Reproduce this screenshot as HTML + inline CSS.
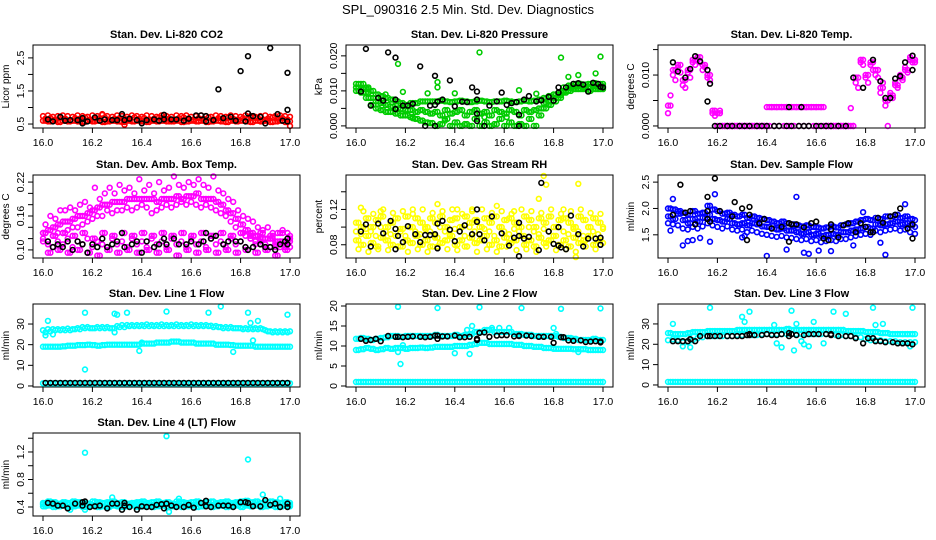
<!DOCTYPE html>
<html><head><meta charset="utf-8"><style>
html,body{margin:0;padding:0;background:#fff;}
svg{display:block;font-family:"Liberation Sans",Arial,sans-serif;}
</style></head><body>
<svg id="chart" width="936" height="540" viewBox="0 0 936 540" xmlns="http://www.w3.org/2000/svg">
<rect width="936" height="540" fill="#fff"/>
<text x="468" y="14" text-anchor="middle" font-size="13">SPL_090316  2.5 Min. Std. Dev. Diagnostics</text>
<g id="panels"></g>
</svg>
<script>
// shared time axis (categories)
const X = [16.00,16.02,16.04,16.06,16.08,16.10,16.12,16.14,16.16,16.18,16.20,16.22,16.24,16.26,16.28,16.30,16.32,16.34,16.36,16.38,16.40,16.42,16.44,16.46,16.48,16.50,16.52,16.54,16.56,16.58,16.60,16.62,16.64,16.66,16.68,16.70,16.72,16.74,16.76,16.78,16.80,16.82,16.84,16.86,16.88,16.90,16.92,16.94,16.96,16.98,17.00];
const X2 = [16.01,16.03,16.05,16.07,16.09,16.11,16.13,16.15,16.17,16.19,16.21,16.23,16.25,16.27,16.29,16.31,16.33,16.35,16.37,16.39,16.41,16.43,16.45,16.47,16.49,16.51,16.53,16.55,16.57,16.59,16.61,16.63,16.65,16.67,16.69,16.71,16.73,16.75,16.77,16.79,16.81,16.83,16.85,16.87,16.89,16.91,16.93,16.95,16.97,16.99];
const xTicks = [16.0,16.2,16.4,16.6,16.8,17.0];
const xTickLabels = ["16.0","16.2","16.4","16.6","16.8","17.0"];

// Panel 1: CO2
const co2Red1 = [0.66,0.68,0.64,0.70,0.66,0.62,0.68,0.66,0.70,0.64,0.66,0.68,0.70,0.64,0.66,0.68,0.66,0.62,0.70,0.66,0.68,0.64,0.66,0.70,0.68,0.66,0.64,0.68,0.70,0.66,0.64,0.68,0.66,0.70,0.64,0.68,0.66,0.70,0.66,0.64,0.68,0.66,0.70,0.68,0.64,0.66,0.70,0.66,0.68,0.64,0.62];
const co2Red2 = [0.60,0.58,0.60,0.56,0.60,0.58,0.60,0.58,0.56,0.60,0.58,0.60,0.56,0.58,0.60,0.58,0.56,0.60,0.58,0.60,0.58,0.56,0.60,0.58,0.60,0.58,0.58,0.60,0.56,0.58,0.60,0.58,0.60,0.56,0.58,0.60,0.58,0.56,0.60,0.58,0.60,0.58,0.56,0.60,0.58,0.60,0.56,0.58,0.60,0.56,0.58];
const co2Red3 = [0.74,0.76,0.72,0.74,0.76,0.74,0.72,0.76,0.74,0.72,0.76,0.74,0.78,0.74,0.72,0.76,0.74,0.72,0.76,0.74,0.72,0.76,0.74,0.72,0.76,0.74,0.72,0.76,0.74,0.76,0.72,0.74,0.76,0.74,0.72,0.76,0.74,0.72,0.76,0.74,0.72,0.76,0.74,0.72,0.74,0.76,0.72,0.74,0.76,0.74,0.72];
const co2RedOutX = [16.24,16.33,17.00];
const co2RedOutY = [0.80,0.48,0.44];
const co2BlkX = [16.02,16.04,16.07,16.09,16.11,16.14,16.16,16.16,16.18,16.21,16.23,16.25,16.28,16.30,16.32,16.33,16.35,16.38,16.40,16.42,16.45,16.47,16.49,16.49,16.52,16.54,16.57,16.59,16.62,16.64,16.66,16.66,16.69,16.71,16.73,16.76,16.78,16.80,16.82,16.83,16.83,16.85,16.88,16.90,16.92,16.95,16.97,16.99,16.99,16.99];
const co2BlkY = [0.64,0.58,0.72,0.60,0.62,0.62,0.68,0.52,0.58,0.70,0.60,0.64,0.62,0.62,0.80,0.62,0.66,0.62,0.52,0.62,0.64,0.60,0.78,0.64,0.64,0.64,0.60,0.66,0.76,0.76,0.74,0.58,0.62,1.55,0.68,0.72,0.60,2.10,0.58,2.55,0.82,0.74,0.72,0.52,2.80,0.80,0.60,0.93,2.05,0.58];

// Panel 2: Pressure
const presG1 = [0.012,0.012,0.011,0.010,0.009,0.0085,0.008,0.0075,0.007,0.0065,0.006,0.0065,0.0065,0.007,0.007,0.007,0.007,0.0072,0.007,0.0068,0.007,0.0072,0.007,0.0068,0.007,0.0072,0.007,0.0068,0.007,0.007,0.0072,0.007,0.0068,0.007,0.0072,0.007,0.0072,0.0075,0.008,0.0085,0.009,0.0095,0.011,0.0115,0.012,0.012,0.0118,0.012,0.0122,0.012,0.012];
const presG2 = [0.010,0.0095,0.008,0.006,0.005,0.0045,0.004,0.004,0.0035,0.003,0.003,0.0025,0.002,0.0015,0.001,0.0008,0.0,0.0005,0.002,0.0,0.001,0.0,0.0005,0.0,0.002,0.0,0.001,0.0,0.0005,0.002,0.0,0.001,0.0,0.0005,0.0,0.002,0.0,0.003,0.005,0.006,0.007,0.008,0.0095,0.010,0.0105,0.0105,0.0105,0.010,0.0105,0.0105,0.0105];
const presG3 = [0.011,0.0105,0.0095,0.008,0.007,0.0065,0.006,0.0055,0.005,0.0048,0.0045,0.0045,0.004,0.0045,0.004,0.0035,0.004,0.003,0.0045,0.0035,0.004,0.0045,0.003,0.004,0.0045,0.0035,0.004,0.003,0.0045,0.004,0.0035,0.0045,0.004,0.003,0.0045,0.004,0.0045,0.005,0.0065,0.007,0.008,0.0088,0.010,0.0108,0.0112,0.0113,0.011,0.0112,0.0113,0.0112,0.0113];
const presGOutX = [16.05,16.17,16.19,16.29,16.33,16.33,16.40,16.50,16.83,16.86,16.90,16.97,16.99,16.12,16.23,16.36,16.52,16.61,16.66,16.73];
const presGOutY = [0.0105,0.0177,0.0097,0.0093,0.0125,0.011,0.0093,0.021,0.0195,0.014,0.0145,0.015,0.0198,0.009,0.0022,0.0015,0.0025,0.0025,0.0102,0.0092];
const presBlkX = [16.04,16.13,16.16,16.26,16.32,16.38,16.47,16.49,16.02,16.06,16.09,16.11,16.16,16.16,16.19,16.21,16.23,16.28,16.30,16.32,16.32,16.33,16.35,16.40,16.43,16.45,16.49,16.49,16.49,16.52,16.54,16.57,16.59,16.61,16.63,16.65,16.66,16.66,16.68,16.70,16.73,16.75,16.78,16.80,16.82,16.82,16.85,16.88,16.90,16.92,16.94,16.96,16.98,16.99,17.00];
const presBlkY = [0.022,0.021,0.0195,0.017,0.0143,0.013,0.011,0.0098,0.0098,0.0058,0.008,0.0072,0.0075,0.0048,0.0058,0.0058,0.0063,0.0,0.0058,0.006,0.0,0.0069,0.0075,0.0056,0.0069,0.0068,0.0075,0.0035,0.0014,0.0,0.0058,0.007,0.0095,0.006,0.0065,0.0068,0.0032,0.0,0.0075,0.0085,0.007,0.0073,0.0083,0.0072,0.0095,0.011,0.011,0.012,0.0122,0.0118,0.0098,0.0123,0.012,0.0112,0.011];

// Panel 3: Li-820 temp
const tempM1 = [0.004,0.011,0.012,0.009,0.011,0.013,0.0135,0.012,0.010,0.003,0.0025,0,0,0,0,0,0,0,0,0,0.0037,0.0037,0.0037,0.0037,0.0037,0.0037,0.0037,0.0037,0.0037,0.0037,0.0037,0.0037,0,0,0,0,0,0,0.0095,0.013,0.010,0.0125,0.011,0.0075,0.005,0.006,0.008,0.0095,0.011,0.013,0.013];
const tempM2 = [0.006,0.009,0.0105,0.0075,0.0095,0.012,0.0125,0.0115,0.009,0.002,0.003,0,0,0,0,0,0,0,0,0,0,0,0,0,0,0,0,0,0,0,0,0,0,0,0,0,0,0,0.0075,0.012,0.0085,0.011,0.0095,0.0085,0,0.0055,0.0075,0.009,0.0105,0.0125,0.012];
const tempM3 = [0.0025,0.010,0.0115,0.008,0.0105,0.0125,0.013,0.011,0.0095,0.0025,0,0,0,0,0,0,0,0,0,0,0,0.0037,0.0037,0.0037,0.0037,0.0037,0.0037,0.0037,0.0037,0.0037,0.0037,0.0037,0,0,0,0,0,0.0035,0.0085,0.0125,0.0095,0.012,0.010,0.0065,0.004,0.0065,0.0085,0.010,0.0115,0.0135,0.0125];
const tempBlkX = [16.02,16.04,16.07,16.09,16.11,16.13,16.16,16.17,16.16,16.19,16.21,16.24,16.26,16.29,16.31,16.33,16.36,16.38,16.40,16.43,16.45,16.48,16.50,16.53,16.55,16.57,16.60,16.62,16.64,16.66,16.69,16.72,16.49,16.54,16.75,16.79,16.83,16.86,16.88,16.90,16.92,16.94,16.96,16.99,16.99];
const tempBlkY = [0.0125,0.0107,0.0095,0.0112,0.0137,0.0127,0.011,0.0083,0.0048,0,0,0,0,0,0,0,0,0,0,0,0,0,0,0,0,0,0,0,0,0,0,0,0.0037,0.0037,0.0095,0.0075,0.013,0.0088,0.0055,0.0055,0.0093,0.0098,0.0125,0.0138,0.011];

// Panel 4: Amb box temp
const ambUp = [0.13,0.135,0.14,0.145,0.15,0.15,0.155,0.16,0.16,0.165,0.17,0.175,0.18,0.18,0.185,0.185,0.185,0.19,0.19,0.19,0.19,0.19,0.19,0.185,0.19,0.19,0.19,0.195,0.19,0.195,0.195,0.20,0.19,0.19,0.19,0.185,0.18,0.17,0.165,0.155,0.145,0.135,0.13,0.125,0.12,0.12,0.12,0.115,0.115,0.115,0.115];
const ambUpHi = [0.145,0.16,0.155,0.17,0.17,0.175,0.17,0.18,0.185,0.175,0.21,0.19,0.20,0.21,0.20,0.215,0.205,0.21,0.20,0.225,0.205,0.215,0.20,0.22,0.205,0.21,0.23,0.215,0.21,0.22,0.215,0.225,0.215,0.21,0.23,0.205,0.20,0.19,0.185,0.17,0.16,0.155,0.15,0.14,0.135,0.14,0.13,0.13,0.135,0.13,0.125];
const ambUpLo = [0.12,0.115,0.125,0.13,0.13,0.135,0.14,0.14,0.145,0.15,0.155,0.16,0.16,0.17,0.165,0.17,0.17,0.175,0.17,0.175,0.18,0.175,0.165,0.17,0.175,0.18,0.175,0.18,0.185,0.18,0.185,0.18,0.175,0.18,0.175,0.17,0.165,0.16,0.15,0.14,0.13,0.125,0.12,0.115,0.11,0.11,0.105,0.105,0.105,0.11,0.105];
const ambLow = [0.115,0.11,0.105,0.115,0.11,0.12,0.105,0.115,0.11,0.12,0.105,0.115,0.11,0.105,0.12,0.11,0.115,0.105,0.12,0.11,0.115,0.105,0.12,0.11,0.115,0.105,0.12,0.11,0.115,0.105,0.12,0.11,0.115,0.105,0.12,0.11,0.115,0.105,0.12,0.11,0.115,0.105,0.12,0.11,0.115,0.105,0.12,0.11,0.115,0.105,0.12];
const ambLow2 = [0.13,0.095,0.125,0.10,0.13,0.095,0.125,0.10,0.13,0.095,0.12,0.09,0.13,0.10,0.125,0.095,0.13,0.10,0.125,0.095,0.13,0.10,0.125,0.095,0.13,0.10,0.125,0.09,0.13,0.10,0.125,0.095,0.13,0.10,0.125,0.095,0.13,0.10,0.125,0.095,0.13,0.10,0.125,0.095,0.13,0.10,0.125,0.09,0.13,0.10,0.125];
const ambBlkX = [16.02,16.04,16.06,16.08,16.10,16.12,16.14,16.16,16.18,16.20,16.22,16.24,16.26,16.28,16.30,16.32,16.33,16.36,16.38,16.40,16.42,16.45,16.47,16.49,16.50,16.53,16.55,16.58,16.60,16.63,16.65,16.66,16.68,16.70,16.73,16.75,16.78,16.80,16.82,16.83,16.85,16.88,16.90,16.92,16.94,16.96,16.98,16.99,16.99];
const ambBlkY = [0.115,0.105,0.11,0.105,0.115,0.10,0.115,0.11,0.095,0.11,0.105,0.12,0.105,0.11,0.115,0.13,0.105,0.11,0.115,0.095,0.115,0.105,0.11,0.12,0.11,0.12,0.11,0.11,0.115,0.11,0.115,0.13,0.12,0.125,0.11,0.115,0.115,0.115,0.105,0.10,0.105,0.11,0.105,0.105,0.10,0.11,0.115,0.12,0.11];

// Panel 5: Gas stream RH
const rhY1 = [0.105,0.10,0.11,0.10,0.108,0.112,0.10,0.105,0.11,0.098,0.112,0.10,0.11,0.105,0.10,0.11,0.105,0.112,0.10,0.108,0.11,0.10,0.112,0.105,0.108,0.10,0.11,0.105,0.112,0.10,0.108,0.11,0.105,0.10,0.112,0.108,0.10,0.11,0.105,0.112,0.10,0.108,0.11,0.105,0.10,0.112,0.108,0.10,0.11,0.105,0.10];
const rhY2 = [0.085,0.08,0.09,0.082,0.078,0.088,0.085,0.08,0.09,0.078,0.085,0.082,0.09,0.08,0.085,0.078,0.088,0.082,0.085,0.09,0.08,0.085,0.078,0.088,0.082,0.085,0.09,0.08,0.085,0.078,0.088,0.082,0.085,0.09,0.08,0.085,0.078,0.088,0.082,0.085,0.09,0.08,0.085,0.078,0.088,0.082,0.085,0.09,0.08,0.085,0.082];
const rhY3 = [0.095,0.092,0.098,0.095,0.09,0.1,0.095,0.092,0.098,0.095,0.09,0.1,0.095,0.092,0.098,0.095,0.09,0.1,0.095,0.092,0.098,0.095,0.09,0.1,0.095,0.092,0.098,0.095,0.09,0.1,0.095,0.092,0.098,0.095,0.09,0.1,0.095,0.092,0.098,0.095,0.09,0.1,0.095,0.092,0.098,0.095,0.09,0.1,0.095,0.092,0.098];
const rhY4 = [0.075,0.118,0.072,0.115,0.075,0.12,0.074,0.116,0.078,0.118,0.072,0.115,0.075,0.12,0.072,0.116,0.078,0.118,0.075,0.12,0.074,0.115,0.078,0.118,0.072,0.12,0.075,0.116,0.072,0.118,0.078,0.115,0.074,0.12,0.075,0.118,0.072,0.116,0.078,0.12,0.074,0.115,0.075,0.118,0.072,0.12,0.078,0.116,0.075,0.115,0.078];
const rhOutX = [16.02,16.10,16.33,16.41,16.47,16.57,16.74,16.76,16.77,16.84,16.90,16.89,16.23,16.64];
const rhOutY = [0.122,0.118,0.126,0.12,0.12,0.124,0.132,0.158,0.148,0.12,0.149,0.066,0.12,0.118];
const rhBlkX = [16.02,16.04,16.06,16.09,16.11,16.14,16.16,16.16,16.17,16.19,16.21,16.24,16.26,16.28,16.30,16.32,16.33,16.33,16.35,16.38,16.40,16.42,16.44,16.47,16.49,16.49,16.50,16.52,16.55,16.59,16.62,16.64,16.66,16.66,16.66,16.68,16.70,16.74,16.75,16.78,16.80,16.82,16.82,16.83,16.85,16.87,16.90,16.92,16.94,16.97,16.99,16.99];
const rhBlkY = [0.095,0.103,0.078,0.104,0.093,0.107,0.098,0.075,0.09,0.083,0.101,0.092,0.083,0.091,0.091,0.092,0.076,0.104,0.107,0.097,0.084,0.095,0.102,0.092,0.12,0.106,0.092,0.085,0.112,0.093,0.079,0.088,0.067,0.09,0.105,0.087,0.089,0.074,0.15,0.095,0.081,0.1,0.079,0.077,0.075,0.113,0.092,0.078,0.087,0.087,0.088,0.08];

// Panel 6: Sample flow
const flowB1 = [1.85,1.80,1.95,1.78,1.72,1.80,1.75,1.82,1.88,1.80,1.78,1.75,1.80,1.72,1.70,1.72,1.68,1.72,1.70,1.66,1.65,1.62,1.60,1.62,1.58,1.58,1.55,1.52,1.55,1.50,1.52,1.48,1.50,1.52,1.50,1.55,1.55,1.58,1.60,1.62,1.65,1.62,1.70,1.68,1.70,1.72,1.75,1.70,1.72,1.68,1.65];
const flowB2 = [2.00,1.98,1.90,1.92,1.88,1.95,1.90,1.92,2.05,1.98,1.95,1.90,1.92,1.88,1.85,1.88,1.82,1.85,1.82,1.80,1.78,1.75,1.72,1.75,1.72,1.70,1.68,1.66,1.68,1.65,1.64,1.62,1.64,1.66,1.64,1.68,1.70,1.72,1.75,1.78,1.80,1.78,1.82,1.80,1.85,1.85,1.88,1.82,1.85,1.80,1.78];
const flowB3 = [1.72,1.70,1.68,1.62,1.60,1.65,1.62,1.66,1.72,1.68,1.65,1.62,1.66,1.60,1.58,1.60,1.55,1.58,1.55,1.52,1.50,1.48,1.46,1.48,1.45,1.44,1.42,1.40,1.42,1.38,1.40,1.36,1.38,1.40,1.38,1.42,1.42,1.45,1.48,1.50,1.52,1.50,1.58,1.55,1.58,1.60,1.62,1.58,1.60,1.55,1.52];
const flowOutX = [16.01,16.02,16.06,16.08,16.10,16.13,16.17,16.19,16.30,16.31,16.40,16.48,16.52,16.55,16.57,16.61,16.66,16.75,16.79,16.86,16.88,16.96];
const flowOutY = [1.58,2.18,1.30,1.38,1.40,1.44,1.37,2.27,1.45,1.48,1.10,1.22,2.22,1.16,1.14,1.20,1.19,1.30,1.93,1.35,1.12,2.08];
const flowBlkX = [16.02,16.05,16.07,16.09,16.11,16.16,16.16,16.16,16.17,16.19,16.21,16.26,16.27,16.30,16.32,16.33,16.33,16.37,16.39,16.42,16.46,16.49,16.49,16.50,16.52,16.55,16.58,16.60,16.63,16.65,16.66,16.66,16.69,16.71,16.73,16.76,16.78,16.80,16.82,16.83,16.85,16.87,16.90,16.92,16.94,16.97,16.99,16.99];
const flowBlkY = [1.88,2.45,1.92,1.95,1.70,1.95,2.22,1.80,1.75,2.57,1.95,1.85,2.12,2.00,1.40,1.88,2.03,1.72,1.80,1.62,1.65,1.72,1.37,1.70,1.70,1.64,1.72,1.75,1.43,1.40,1.60,1.70,1.45,1.68,1.72,1.55,1.72,1.65,1.55,1.55,1.82,1.73,1.85,1.88,2.00,1.62,1.70,1.43];

// Panel 7: Line 1 flow
const l1Up = [27,27.5,27.5,27.5,27.5,27.8,27.5,28,28.5,28.5,28,28.5,28.5,28.5,28,29,29.5,29.5,29.5,29.5,29.5,29.8,29.5,29.5,29.8,29.5,29.5,29.8,29.5,29.5,29.8,29.5,29.5,29.5,29.2,29,28.5,28.5,28.5,28,28,28,28,28,28,27,26.5,26.5,26.5,26.5,26.5];
const l1Up2 = [26,26.5,27,27,27,27,27.5,27.5,28,28,28,28,28,28,28,28.5,28.5,29,29,29,29,29,29,29,29,29,29,29,29,29,29,29,29,29,28.5,28.5,28,28,28,28,27.5,27.5,27.5,27.5,27.5,26.5,26,26,26,26,26];
const l1Mid = [19,19,19,19,19.2,19.5,19.5,19.8,19.8,20,19.8,19.5,19.8,20,20,20,20,20,20,20,20.5,20.5,20.5,21,21,21,21.5,21.5,21,21,21,20.5,20.5,20.5,20.5,20,20,20,19.8,19.5,19.5,19.5,19.5,19,19,19,19,19,19,19,19];
const l1Low = [1.3,1.3,1.3,1.3,1.3,1.3,1.3,1.3,1.3,1.3,1.3,1.3,1.3,1.3,1.3,1.3,1.3,1.3,1.3,1.3,1.3,1.3,1.3,1.3,1.3,1.3,1.3,1.3,1.3,1.3,1.3,1.3,1.3,1.3,1.3,1.3,1.3,1.3,1.3,1.3,1.3,1.3,1.3,1.3,1.3,1.3,1.3,1.3,1.3,1.3,1.3];
const l1OutX = [16.02,16.01,16.17,16.17,16.29,16.30,16.29,16.34,16.39,16.40,16.50,16.67,16.72,16.77,16.83,16.84,16.87,16.99,16.04,16.85];
const l1OutY = [31.5,24.5,35.5,8,35,34.5,26,35.5,17,21,36,35.5,38.5,16.5,35.5,30.5,31.5,34.5,25,22];
const l1BlkY = [1.5,1.5,1.5,1.5,1.5,1.5,1.5,1.5,1.5,1.5,1.5,1.5,1.5,1.5,1.5,1.5,1.5,1.5,1.5,1.5,1.5,1.5,1.5,1.5,1.5,1.5,1.5,1.5,1.5,1.5,1.5,1.5,1.5,1.5,1.5,1.5,1.5,1.5,1.5,1.5,1.5,1.5,1.5,1.5,1.5,1.5,1.5,1.5,1.5,1.5];

// Panel 8: Line 2 flow
const l2Up = [11.8,12,11.8,11.5,11.8,12,12.2,12.5,12.5,12.3,12.5,12.5,12.5,12.5,12.5,12.5,12.8,12.5,12.5,12.5,12.8,12.5,12.8,13,13.5,13.5,14,14,13.5,13.5,13.5,13.5,13,13,12.8,12.8,12.5,12.5,12.5,12.5,12.5,12.3,12,12,11.8,11.5,11.5,11.5,11.8,11.5,11.5];
const l2Mid = [9,9.2,9.5,9.3,9,9.2,9.5,9.3,9.5,9.5,9.3,9.5,9.5,9.6,9.5,9.6,9.8,9.8,9.8,9.8,10,10,10,10.3,10.5,10.8,10.8,10.5,10.5,10.5,10.5,10.5,10.3,10.3,10,10,9.8,9.8,9.5,9.5,9.3,9.3,9.3,9.3,9.2,9.2,9.2,9,9,9,9];
const l2Low = [1,1,1,1,1,1,1,1,1,1,1,1,1,1,1,1,1,1,1,1,1,1,1,1,1,1,1,1,1,1,1,1,1,1,1,1,1,1,1,1,1,1,1,1,1,1,1,1,1,1,1];
const l2OutX = [16.17,16.18,16.19,16.33,16.40,16.45,16.46,16.47,16.50,16.55,16.58,16.62,16.67,16.80,16.81,16.83,16.90,16.99,16.17];
const l2OutY = [19.8,5.5,10.2,19.5,8.2,14,8,15,19.7,14.5,14.5,14.5,19.5,14.5,13,19.3,8.5,19.4,8.5];
const l2BlkX = [16.02,16.04,16.06,16.08,16.10,16.13,16.16,16.17,16.19,16.21,16.23,16.26,16.28,16.30,16.32,16.33,16.33,16.35,16.37,16.40,16.42,16.44,16.46,16.49,16.49,16.50,16.52,16.54,16.57,16.59,16.61,16.64,16.66,16.66,16.69,16.71,16.74,16.76,16.79,16.80,16.83,16.84,16.86,16.88,16.91,16.93,16.95,16.97,16.99,16.99];
const l2BlkY = [11.8,11.3,11.5,11.8,11.2,12.5,12.3,12.3,12.2,12.3,12.4,12.3,12.2,12.3,12.6,11.8,12.6,12.4,12.4,12.6,12.2,12.2,12.3,11.5,11.8,13.3,13.4,12.3,12.6,12.7,12.7,12.4,12.5,12.6,12.6,12.5,12.3,12.3,12.3,10.8,12.2,12.2,11.4,11.3,11.4,11,11.1,11.2,11.1,10.9];

// Panel 9: Line 3 flow
const l3Up = [25.5,25,25,25,25.5,26,26,26,26.5,26.5,26.5,26.5,26.5,26.5,27,27,27,27,27,27,27,27,27,27,27.5,27,27,27,27,27,27,27,27,27,27,27,26.5,26.5,26.5,26.5,26,26,26,25.5,25.5,25,25,25,25,25,25];
const l3Mid = [22,22.5,22,21,21,22,23,23.5,24,24,24,24,24,24,24.5,24.5,24.5,24.5,24.5,25,25,25,25,25,25,25,25,25,25,25,25,25,25,25,24.5,24.5,24,24,23.5,23.5,22.5,22,22,22,21.5,21.5,21.5,21,21,21,21];
const l3Low = [1.5,1.5,1.5,1.5,1.5,1.5,1.5,1.5,1.5,1.5,1.5,1.5,1.5,1.5,1.5,1.5,1.5,1.5,1.5,1.5,1.5,1.5,1.5,1.5,1.5,1.5,1.5,1.5,1.5,1.5,1.5,1.5,1.5,1.5,1.5,1.5,1.5,1.5,1.5,1.5,1.5,1.5,1.5,1.5,1.5,1.5,1.5,1.5,1.5,1.5,1.5];
const l3OutX = [16.02,16.06,16.09,16.17,16.30,16.31,16.33,16.43,16.44,16.46,16.50,16.51,16.52,16.54,16.55,16.57,16.59,16.63,16.67,16.72,16.83,16.84,16.87,16.99,16.98];
const l3OutY = [30,19,18.5,38,33.5,31,36,29.5,20.5,18.5,36.5,17,30,21.5,20,19,31,20.5,36,35,38,29.5,30,38,19];
const l3BlkX = [16.02,16.04,16.06,16.08,16.09,16.11,16.13,16.16,16.17,16.19,16.21,16.24,16.26,16.28,16.30,16.32,16.33,16.33,16.35,16.38,16.40,16.42,16.44,16.46,16.49,16.49,16.50,16.52,16.55,16.57,16.59,16.61,16.64,16.66,16.66,16.69,16.72,16.74,16.76,16.79,16.81,16.83,16.84,16.86,16.88,16.91,16.93,16.95,16.97,16.99];
const l3BlkY = [21.5,21.5,21.5,21.5,22.5,21.5,24,24,24,24,24,24,24,24,24,24.5,24.5,25,24.5,24.5,25,24.5,24.5,25,25.5,24,25,24.5,24.5,25,25,25,25,25,24.5,24,24,24,23,20.5,23,23,21.5,21.5,21,21,20.5,20.5,20.5,20];

// Panel 10: Line 4 flow
const l4Y1 = [0.46,0.48,0.47,0.45,0.47,0.46,0.48,0.47,0.46,0.45,0.48,0.47,0.46,0.47,0.48,0.46,0.47,0.45,0.46,0.47,0.48,0.46,0.47,0.48,0.46,0.47,0.45,0.48,0.47,0.46,0.47,0.48,0.46,0.47,0.48,0.46,0.47,0.48,0.46,0.47,0.48,0.49,0.47,0.48,0.46,0.47,0.48,0.47,0.46,0.47,0.46];
const l4Y2 = [0.41,0.42,0.40,0.41,0.42,0.40,0.41,0.42,0.40,0.41,0.42,0.40,0.41,0.40,0.42,0.41,0.40,0.41,0.42,0.40,0.41,0.42,0.40,0.41,0.42,0.40,0.41,0.42,0.40,0.41,0.42,0.40,0.41,0.42,0.40,0.41,0.42,0.40,0.41,0.42,0.40,0.42,0.41,0.42,0.40,0.41,0.42,0.40,0.41,0.42,0.41];
const l4Y3 = [0.44,0.44,0.43,0.44,0.45,0.44,0.43,0.44,0.45,0.44,0.43,0.44,0.45,0.44,0.43,0.44,0.45,0.44,0.43,0.44,0.45,0.44,0.43,0.44,0.45,0.44,0.43,0.44,0.45,0.44,0.43,0.44,0.45,0.44,0.43,0.44,0.45,0.44,0.43,0.44,0.45,0.44,0.43,0.44,0.45,0.44,0.43,0.44,0.45,0.44,0.43];
const l4OutX = [16.17,16.50,16.83,16.89,16.28,16.51,16.11,16.17,16.55,16.96];
const l4OutY = [1.19,1.43,1.09,0.58,0.54,0.33,0.36,0.36,0.52,0.52];
const l4BlkX = [16.02,16.04,16.06,16.08,16.10,16.13,16.16,16.16,16.17,16.19,16.21,16.23,16.26,16.28,16.30,16.32,16.33,16.33,16.35,16.38,16.40,16.42,16.44,16.46,16.48,16.49,16.50,16.52,16.54,16.57,16.59,16.61,16.64,16.66,16.66,16.68,16.71,16.73,16.75,16.77,16.80,16.82,16.83,16.85,16.88,16.90,16.92,16.94,16.96,16.99,16.99];
const l4BlkY = [0.46,0.45,0.42,0.42,0.38,0.45,0.47,0.42,0.48,0.40,0.41,0.42,0.38,0.45,0.45,0.36,0.42,0.46,0.40,0.36,0.41,0.40,0.40,0.43,0.44,0.38,0.45,0.42,0.40,0.40,0.43,0.39,0.46,0.49,0.41,0.40,0.42,0.42,0.42,0.40,0.47,0.47,0.46,0.41,0.41,0.50,0.43,0.45,0.40,0.40,0.45];

const panels = [
 {name:'co2',title:'Stan. Dev. Li-820 CO2',ylab:'Licor ppm',col:0,row:0,ymin:0.38,ymax:2.89,ticks:[0.5,1.0,1.5,2.0,2.5],labels:['0.5','','1.5','','2.5'],
  series:[[X,co2Red2,'#ff0000'],[X2,co2Red1,'#ff0000'],[X,co2Red3,'#ff0000'],[X2,co2Red2,'#ff0000'],[co2RedOutX,co2RedOutY,'#ff0000'],[co2BlkX,co2BlkY,'#000']]},
 {name:'pressure',title:'Stan. Dev. Li-820 Pressure',ylab:'kPa',col:1,row:0,ymin:-0.0006,ymax:0.0231,ticks:[0,0.005,0.010,0.015,0.020],labels:['0.000','','0.010','','0.020'],
  series:[[X,presG1,'#00cc00'],[X2,presG1,'#00cc00'],[X,presG2,'#00cc00'],[X2,presG3,'#00cc00'],[X,presG3,'#00cc00'],[X2,presG2,'#00cc00'],[presGOutX,presGOutY,'#00cc00'],[presBlkX,presBlkY,'#000']]},
 {name:'li820-temp',title:'Stan. Dev. Li-820 Temp.',ylab:'degrees C',col:2,row:0,ymin:-0.0004,ymax:0.0159,ticks:[0,0.005,0.010,0.015],labels:['0.000','','0.010',''],
  series:[[X,tempM1,'#ff00ff'],[X2,tempM2,'#ff00ff'],[X,tempM3,'#ff00ff'],[X2,tempM1,'#ff00ff'],[tempBlkX,tempBlkY,'#000']]},
 {name:'amb-temp',title:'Stan. Dev. Amb. Box Temp.',ylab:'degrees C',col:0,row:1,ymin:0.0857,ymax:0.2325,ticks:[0.10,0.12,0.14,0.16,0.18,0.20,0.22],labels:['0.10','','','0.16','','','0.22'],
  series:[[X,ambUp,'#ff00ff'],[X2,ambUpHi,'#ff00ff'],[X,ambUpLo,'#ff00ff'],[X2,ambUp,'#ff00ff'],[X,ambLow,'#ff00ff'],[X2,ambLow2,'#ff00ff'],[X,ambLow2,'#ff00ff'],[ambBlkX,ambBlkY,'#000']]},
 {name:'gas-rh',title:'Stan. Dev. Gas Stream RH',ylab:'percent',col:1,row:1,ymin:0.065,ymax:0.159,ticks:[0.08,0.10,0.12,0.14],labels:['0.08','','0.12',''],
  series:[[X,rhY1,'#ffff00'],[X2,rhY2,'#ffff00'],[X,rhY3,'#ffff00'],[X2,rhY4,'#ffff00'],[X,rhY2,'#ffff00'],[X2,rhY1,'#ffff00'],[rhOutX,rhOutY,'#ffff00'],[rhBlkX,rhBlkY,'#000']]},
 {name:'sample-flow',title:'Stan. Dev. Sample Flow',ylab:'ml/min',col:2,row:1,ymin:1.06,ymax:2.635,ticks:[1.5,2.0,2.5],labels:['1.5','2.0','2.5'],
  series:[[X,flowB1,'#0000ff'],[X2,flowB2,'#0000ff'],[X,flowB3,'#0000ff'],[X2,flowB1,'#0000ff'],[X,flowB2,'#0000ff'],[flowOutX,flowOutY,'#0000ff'],[flowBlkX,flowBlkY,'#000']]},
 {name:'line1-flow',title:'Stan. Dev. Line 1 Flow',ylab:'ml/min',col:0,row:2,ymin:-0.5,ymax:39.7,ticks:[0,10,20,30],labels:['0','10','20','30'],
  series:[[X,l1Up,'#00ffff'],[X2,l1Up2,'#00ffff'],[X,l1Mid,'#00ffff'],[X2,l1Mid,'#00ffff'],[X,l1Low,'#00ffff'],[X2,l1Low,'#00ffff'],[l1OutX,l1OutY,'#00ffff'],[X2,l1BlkY,'#000']]},
 {name:'line2-flow',title:'Stan. Dev. Line 2 Flow',ylab:'ml/min',col:1,row:2,ymin:-0.25,ymax:20.5,ticks:[0,5,10,15,20],labels:['0','5','10','15','20'],
  series:[[X,l2Up,'#00ffff'],[X2,l2Up,'#00ffff'],[X,l2Mid,'#00ffff'],[X2,l2Mid,'#00ffff'],[X,l2Low,'#00ffff'],[X2,l2Low,'#00ffff'],[l2OutX,l2OutY,'#00ffff'],[l2BlkX,l2BlkY,'#000']]},
 {name:'line3-flow',title:'Stan. Dev. Line 3 Flow',ylab:'ml/min',col:2,row:2,ymin:-1,ymax:39.8,ticks:[0,10,20,30],labels:['0','10','20','30'],
  series:[[X,l3Up,'#00ffff'],[X2,l3Up,'#00ffff'],[X,l3Mid,'#00ffff'],[X2,l3Up,'#00ffff'],[X,l3Low,'#00ffff'],[X2,l3Low,'#00ffff'],[l3OutX,l3OutY,'#00ffff'],[l3BlkX,l3BlkY,'#000']]},
 {name:'line4-flow',title:'Stan. Dev. Line 4 (LT) Flow',ylab:'ml/min',col:0,row:3,ymin:0.269,ymax:1.476,ticks:[0.4,0.6,0.8,1.0,1.2,1.4],labels:['0.4','','0.8','','1.2',''],
  series:[[X,l4Y1,'#00ffff'],[X2,l4Y2,'#00ffff'],[X,l4Y3,'#00ffff'],[X2,l4Y1,'#00ffff'],[X,l4Y2,'#00ffff'],[l4OutX,l4OutY,'#00ffff'],[l4BlkX,l4BlkY,'#000']]}
];

const NS='http://www.w3.org/2000/svg';
const colLeft=[33,346,658], rowTop=[45,175,304,433], W=267, H=83;
const root=document.getElementById('panels');
function mk(tag,attrs,parent){const e=document.createElementNS(NS,tag);for(const k in attrs)e.setAttribute(k,attrs[k]);parent.appendChild(e);return e;}

panels.forEach(p=>{
  const L=colLeft[p.col], T=rowTop[p.row];
  const xs=v=>L+10+(v-16)*247;
  const ys=v=>T+H-(v-p.ymin)/(p.ymax-p.ymin)*H;
  const g=mk('g',{},root);
  
  
  const t=mk('text',{x:L+W/2,y:T-7,'text-anchor':'middle','font-size':'11','font-weight':'bold'},g);
  t.textContent=p.title;
  
  
  const pts=mk('g',{fill:'none','stroke-width':'1.6'},g);
  
  
  p.series.forEach(s=>{
    const xa=s[0], ya=s[1];
    for(let i=0;i<ya.length && i<xa.length;i++){
      if(ya[i]==null) continue;
      const c=mk('circle',{cx:xs(xa[i]).toFixed(1),cy:ys(ya[i]).toFixed(1),r:'2.4',stroke:s[2]},pts);
      
      
    }
  });
  const box=mk('rect',{x:L,y:T,width:W,height:H,fill:'none',stroke:'#000','stroke-width':'1'},g);
  
  
  const xa=mk('g',{},g);
  
  
  xTicks.forEach((v,i)=>{
    mk('line',{x1:xs(v),x2:xs(v),y1:T+H,y2:T+H+5,stroke:'#000'},xa);
    const tl=mk('text',{x:xs(v),y:T+H+18,'text-anchor':'middle','font-size':'10.5'},xa);
    tl.textContent=xTickLabels[i];
    
    
  });
  const ya=mk('g',{},g);
  
  
  p.ticks.forEach((v,i)=>{
    const y=ys(v);
    mk('line',{x1:L-5,x2:L,y1:y,y2:y,stroke:'#000'},ya);
    if(p.labels[i]){
      const tl=mk('text',{x:L-9,y:y,'text-anchor':'middle','font-size':'10.5',transform:`rotate(-90 ${L-9} ${y})`},ya);
      tl.textContent=p.labels[i];
      
      
    }
  });
  const yl=mk('text',{x:L-24,y:T+H/2,'text-anchor':'middle','font-size':'10',transform:`rotate(-90 ${L-24} ${T+H/2})`},g);
  yl.textContent=p.ylab;
  
  
});
</script>
</body></html>
